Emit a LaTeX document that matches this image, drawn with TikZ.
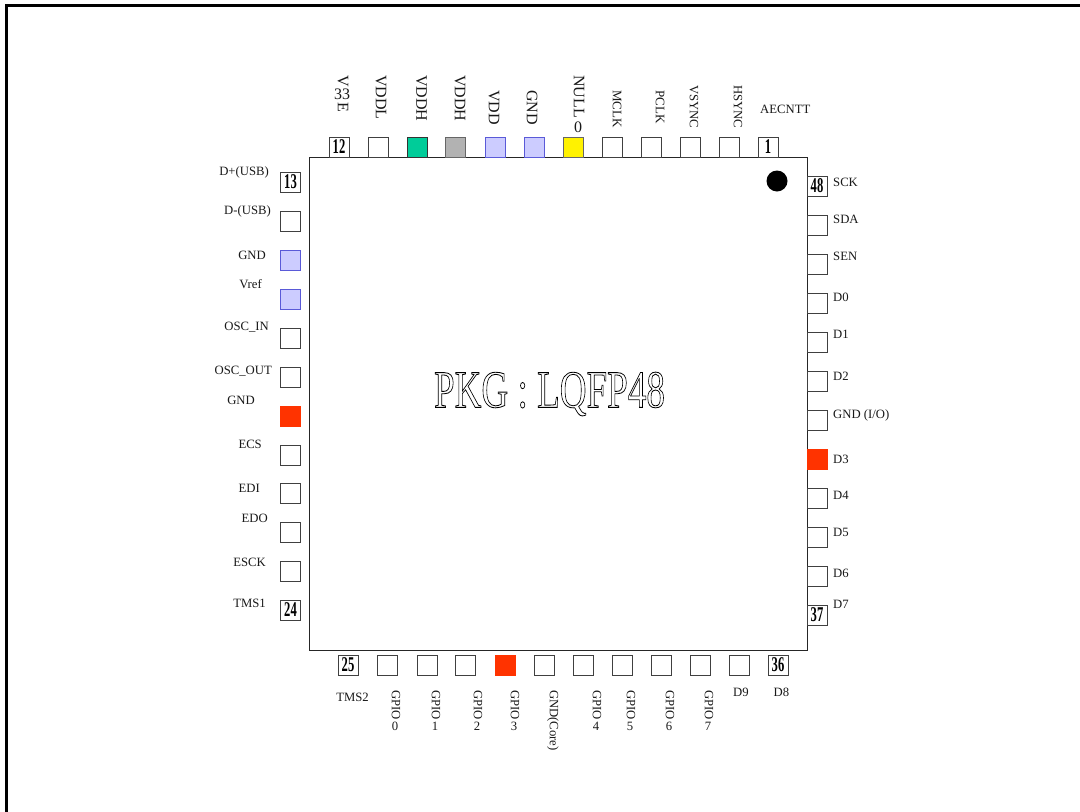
\documentclass[tikz,border=0pt]{standalone}
\usepackage{fontspec}
\setmainfont{Liberation Serif}
\newcommand{\fsz}[1]{\fontsize{#1}{#1}\selectfont}
\tikzset{
 pinbase/.style={draw=black!75,line width=1pt,minimum size=20pt,inner sep=0pt,outer sep=0pt},
 pinbox/.style={pinbase,fill=white},
 pinblue/.style={pinbase,fill=blueF,draw=blueD},
 pingreen/.style={pinbase,fill=greenF,draw=black!80},
 pingray/.style={pinbase,fill=grayF,draw=black!60},
 pinyellow/.style={pinbase,fill=yellow,draw=black!60},
 pinred/.style={pinbase,fill=redF,draw=redF},
 num/.style={inner sep=0pt,font=\fsz{21}\bfseries,xscale=.6},
 lab/.style={inner sep=0pt,font=\fsz{12.7},text=black!90},
 labl/.style={lab,anchor=east},
 labr/.style={lab,anchor=west},
 vs/.style={inner sep=0pt,rotate=-90,anchor=west,font=\fsz{12.7},text=black!90},
 vb/.style={inner sep=0pt,rotate=-90,anchor=west,font=\fsz{16},text=black!90},
 vm/.style={inner sep=0pt,rotate=-90,anchor=west,font=\fsz{13},text=black!90},
 up/.style={inner sep=0pt,font=\fsz{12.7},text=black!90},
 upb/.style={inner sep=0pt,font=\fsz{16},text=black!90},
}
\definecolor{blueF}{HTML}{CCCCFF}
\definecolor{blueD}{HTML}{5A5AD8}
\definecolor{greenF}{HTML}{00CC99}
\definecolor{grayF}{HTML}{B2B2B2}
\definecolor{redF}{HTML}{FF3300}
\begin{document}
\begin{tikzpicture}[x=1pt,y=-1pt]
\useasboundingbox (0,0) rectangle (1080,812);
\fill[white] (0,0) rectangle (1080,812);
\draw[line width=3.5pt,line join=miter] (6.5,812) -- (6.5,5.5) -- (1080,5.5);
\node[draw=black!85,line width=1pt,minimum width=498pt,minimum height=493pt,inner sep=0pt,anchor=north west] (pkg) at (309,157) {};
\fill (777,181) circle (10.5);
% top pins
\node[pinbox] (p12) at (339,147) {};
\node[pinbox] (p11) at (378,147) {};
\node[pingreen] (p10) at (417,147) {};
\node[pingray] (p9) at (455,147) {};
\node[pinblue] (p8) at (495,147) {};
\node[pinblue] (p7) at (534,147) {};
\node[pinyellow] (p6) at (573,147) {};
\node[pinbox] (p5) at (612,147) {};
\node[pinbox] (p4) at (651,147) {};
\node[pinbox] (p3) at (690,147) {};
\node[pinbox] (p2) at (729,147) {};
\node[pinbox] (p1) at (768,147) {};
% left pins
\node[pinbox] (p13) at (290.5,182) {};
\node[pinbox] (p14) at (290.5,221) {};
\node[pinblue] (p15) at (290.5,260) {};
\node[pinblue] (p16) at (290.5,299) {};
\node[pinbox] (p17) at (290.5,338) {};
\node[pinbox] (p18) at (290.5,377) {};
\node[pinred] (p19) at (290.5,416) {};
\node[pinbox] (p20) at (290.5,455) {};
\node[pinbox] (p21) at (290.5,493) {};
\node[pinbox] (p22) at (290.5,532) {};
\node[pinbox] (p23) at (290.5,571) {};
\node[pinbox] (p24) at (290.5,610) {};
% right pins
\node[pinbox] (p48) at (817,186) {};
\node[pinbox] (p47) at (817,225) {};
\node[pinbox] (p46) at (817,264) {};
\node[pinbox] (p45) at (817,303) {};
\node[pinbox] (p44) at (817,342) {};
\node[pinbox] (p43) at (817,381) {};
\node[pinbox] (p42) at (817,420) {};
\node[pinred] (p41) at (817,459) {};
\node[pinbox] (p40) at (817,498) {};
\node[pinbox] (p39) at (817,537) {};
\node[pinbox] (p38) at (817,576) {};
\node[pinbox] (p37) at (817,615) {};
% bottom pins
\node[pinbox] (p25) at (348,665) {};
\node[pinbox] (p26) at (387,665) {};
\node[pinbox] (p27) at (427,665) {};
\node[pinbox] (p28) at (465,665) {};
\node[pinred] (p29) at (505,665) {};
\node[pinbox] (p30) at (544,665) {};
\node[pinbox] (p31) at (583,665) {};
\node[pinbox] (p32) at (622,665) {};
\node[pinbox] (p33) at (661,665) {};
\node[pinbox] (p34) at (700,665) {};
\node[pinbox] (p35) at (739,665) {};
\node[pinbox] (p36) at (778,665) {};
% numbers
\node[num] (n12) at (p12) {12};
\node[num] (n1) at (p1) {1};
\node[num] (n13) at (p13) {13};
\node[num] (n24) at (p24) {24};
\node[num] (n48) at (p48) {48};
\node[num] (n37) at (p37) {37};
\node[num] (n25) at (p25) {25};
\node[num] (n36) at (p36) {36};
% title
\node[inner sep=0pt,xscale=.7,font=\fsz{53}] (title) at (549.5,394) {\addfontfeature{FakeBold=1.6}\special{pdf:code 0 0 0 RG 1 1 1 rg}PKG : LQFP48};
% top labels
\node[vb] (tV) at (343,75) {V};
\node[upb] (t33) at (342,94) {33};
\node[vb] (tE) at (343,102) {E};
\node[vb] (tVDDL) at (381,75) {VDDL};
\node[vb] (tVDDH) at (421.5,75) {VDDH};
\node[vb] (tVDDHb) at (460,75) {VDDH};
\node[vb] (tVDD) at (494,90) {VDD};
\node[vb] (tGND) at (532,90) {GND};
\node[vb] (tNULL) at (579,75) {NULL};
\node[upb] (t0) at (578,127) {0};
\node[vm] (tMCLK) at (617,90) {MCLK};
\node[vm] (tPCLK) at (660,90) {PCLK};
\node[vs] (tVSYNC) at (694,85) {VSYNC};
\node[vs] (tHSYNC) at (738,85) {HSYNC};
\node[lab,anchor=west] (tAE) at (760,109) {AECNTT};
% left labels
\node[labl] (lA) at (269,172) {D+(USB)};
\node[labl] (lB) at (271,211) {D-(USB)};
\node[labl] (lC) at (266,255) {GND};
\node[labl] (lD) at (262,284) {Vref};
\node[labl] (lE) at (269,327) {OSC\_IN};
\node[labl] (lF) at (272,371) {OSC\_OUT};
\node[labl] (lG) at (255,400) {GND};
\node[labl] (lH) at (262,444) {ECS};
\node[labl] (lI) at (260,488) {EDI};
\node[labl] (lJ) at (268,518) {EDO};
\node[labl] (lK) at (266,562) {ESCK};
\node[labl] (lL) at (266,603) {TMS1};
% right labels
\node[labr] (rA) at (833,182) {SCK};
\node[labr] (rB) at (833,219) {SDA};
\node[labr] (rC) at (833,256) {SEN};
\node[labr] (rD) at (833,297) {D0};
\node[labr] (rE) at (833,334) {D1};
\node[labr] (rF) at (833,376) {D2};
\node[labr] (rG) at (833,415) {GND (I/O)};
\node[labr] (rH) at (833,459) {D3};
\node[labr] (rI) at (833,495) {D4};
\node[labr] (rJ) at (833,532) {D5};
\node[labr] (rK) at (833,573) {D6};
\node[labr] (rL) at (833,604) {D7};
% bottom labels
\node[lab] (bA) at (352.5,697) {TMS2};
\node[vs] (bB) at (396,690) {GPIO};
\node[up] (bB0) at (395,726) {0};
\node[vs] (bC) at (436,690) {GPIO};
\node[up] (bC0) at (435,726) {1};
\node[vs] (bD) at (478,690) {GPIO};
\node[up] (bD0) at (477,726) {2};
\node[vs] (bE) at (515,690) {GPIO};
\node[up] (bE0) at (514,726) {3};
\node[vs] (bF) at (553,690) {GND(Core)};
\node[vs] (bG) at (597,690) {GPIO};
\node[up] (bG0) at (596,726) {4};
\node[vs] (bH) at (631,690) {GPIO};
\node[up] (bH0) at (630,726) {5};
\node[vs] (bI) at (670,690) {GPIO};
\node[up] (bI0) at (669,726) {6};
\node[vs] (bJ) at (709,690) {GPIO};
\node[up] (bJ0) at (708,726) {7};
\node[lab] (bK) at (741,692) {D9};
\node[lab] (bL) at (781.5,692) {D8};
\end{tikzpicture}
\end{document}
